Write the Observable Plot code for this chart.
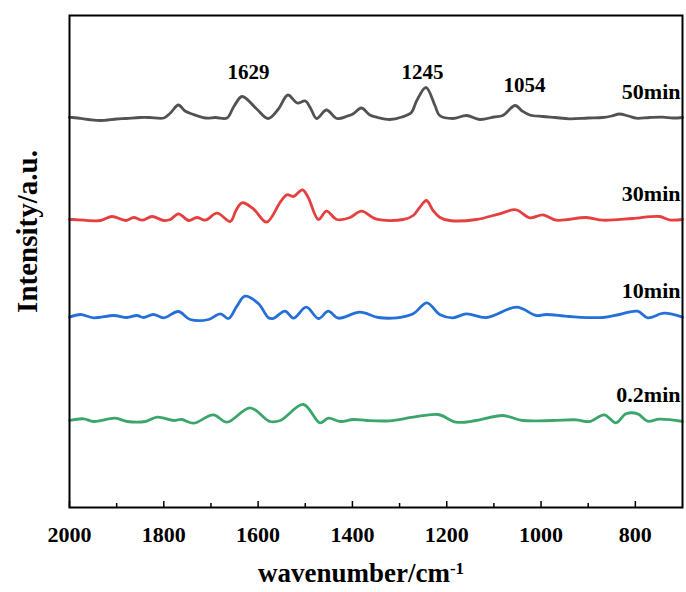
<!DOCTYPE html>
<html>
<head>
<meta charset="utf-8">
<script src="https://cdn.jsdelivr.net/npm/d3@7"></script>
<script src="https://cdn.jsdelivr.net/npm/@observablehq/plot@0.6"></script>
<style>
  html, body { margin: 0; padding: 0; background: #fff; }
</style>
</head>
<body>
<div id="chart"></div>
<script>
// ---- data ----
const seriesNames = ["50min", "30min", "10min", "0.2min"];
const seriesOffsets = [389.5, 288, 190.3, 87];
const seriesColors = ["#525252", "#e5403f", "#2470d8", "#3aa66b"];

const wn50 = [2000,1994,1960,1934,1900,1880,1850,1830,1800,1786,1769,1755,1740,1712,1690,1666,1652,1634,1603,1579,1557,1537,1517,1500,1488,1476,1455,1433,1410,1399,1381,1363,1346,1321,1295,1275,1264,1244,1225,1215,1187,1158,1130,1100,1081,1055,1040,1024,996,970,940,900,869,850,834,815,798,770,742,720,700];
const int50 = [0.5,0.5,-1.5,-2.5,-1,-0.5,0.5,0.5,0,5,13,7,4,0,0.5,0,11,21.5,9,-0.5,9,23,15,17,9,-0.5,8,-0.5,2,4,10,3,0.5,-1.5,1,5.5,17,30.5,12.5,2.5,-0.5,2.5,-1.5,1,2.5,12.5,7,3,1.5,0.5,-0.8,0,0.5,2,4,2,-0.2,0.5,0.8,0,0.5];

const wn30 = [2000,1994,1934,1910,1881,1864,1846,1825,1800,1786,1769,1747,1730,1712,1687,1659,1647,1634,1610,1582,1553,1539,1525,1506,1494,1472,1455,1433,1405,1381,1349,1292,1271,1257,1243,1229,1215,1194,1137,1088,1053,1024,996,968,904,869,806,749,728,700];
const int30 = [0,0,-1,3,-1,2,-0.7,3,-1,0,5.7,-1,2,-0.7,6.3,-2,9,16.7,10.7,-2.7,17.3,24.7,23,29.7,22.3,0,8.3,0,2,8.3,0.3,0,4,12.3,19,9,2.3,-1,0,5.7,9.7,1.7,4.7,-0.7,2,-0.7,1,3,-0.3,0];

const wn10 = [2000,1977,1949,1906,1878,1857,1843,1822,1800,1769,1744,1705,1680,1663,1645,1628,1599,1578,1568,1543,1525,1498,1472,1451,1430,1384,1345,1306,1271,1242,1215,1187,1158,1116,1052,1010,989,940,869,834,795,774,739,700];
const int10 = [0,2.7,-0.6,1.7,-0.3,1.7,-0.3,2.7,-0.6,5.7,-2.3,-2.3,3.4,-1.3,11,21,13.4,-0.6,-1.3,6,-1,10,-1.3,6,-1,5,-0.3,-0.6,3.4,14.4,2.7,-0.6,3.4,-0.3,10,1.7,2.7,0.7,-0.3,2.7,6,-0.6,4,0];

const wn02 = [2000,1970,1949,1903,1878,1839,1814,1779,1762,1737,1695,1666,1617,1575,1553,1504,1469,1451,1426,1398,1370,1321,1271,1218,1180,1137,1081,1039,975,926,897,866,841,820,795,774,749,700];
const int02 = [0,1.7,-1,2.3,-1,-1,3.3,0,1,-2.7,5.7,-1.7,12.7,-1,0,16,-2.3,2.3,-1,1,0,-0.3,3.3,6,-1.7,0,5,0,0,0.7,-1,5.7,-2.3,6.7,6.7,-0.7,1.3,-1];

const peakLabels = [1629, 1245, 1054];
const majorTicks = [2000, 1800, 1600, 1400, 1200, 1000, 800];
const minorTicks = [1900, 1700, 1500, 1300, 1100, 900];
const xLabel = "wavenumber/cm-1";
const yLabel = "Intensity/a.u.";

// ---- build table ----
const wnList = [wn50, wn30, wn10, wn02];
const intList = [int50, int30, int10, int02];
const rows = [];
seriesNames.forEach((name, i) => {
  wnList[i].forEach((w, j) => rows.push({series: name, wn: w, y: intList[i][j] + seriesOffsets[i]}));
});
const seriesLabelRows = seriesNames.map((name, i) => ({series: name, y: seriesOffsets[i]}));
const peakY = [435, 435, 422];
const peakDx = [4, -3, 9];

const FONT = "'Liberation Serif', 'Times New Roman', serif";

const chart = Plot.plot({
  width: 686,
  height: 592,
  marginLeft: 69,
  marginRight: 4,
  marginTop: 15,
  marginBottom: 85,
  style: {fontFamily: FONT, fontWeight: "bold", background: "#fff", overflow: "visible"},
  x: {domain: [2000, 700], axis: null},
  y: {domain: [0, 492], axis: null},
  color: {domain: seriesNames, range: seriesColors},
  marks: [
    Plot.line(rows, {x: "wn", y: "y", z: "series", stroke: "series", strokeWidth: 2.8, curve: "catmull-rom", strokeLinejoin: "round"}),
    Plot.frame({stroke: "black", strokeWidth: 2}),
    Plot.axisX({ticks: majorTicks, tickSize: -6, strokeWidth: 1.5, text: null, label: null}),
    Plot.axisX({ticks: minorTicks, tickSize: -4, strokeWidth: 1.5, text: null, label: null}),
    Plot.axisX({ticks: majorTicks, tickSize: 0, tickPadding: 19, tickFormat: d => String(d), fontSize: 22, fontWeight: "bold", label: null}),
    Plot.text([xLabel], {frameAnchor: "bottom", dx: -15, dy: 74, fontSize: 27, fontWeight: "bold"}),
    Plot.text([yLabel], {frameAnchor: "left", textAnchor: "middle", rotate: -90, dx: -42, dy: -30, fontSize: 29, fontWeight: "bold"}),
    ...peakLabels.map((p, i) =>
      Plot.text([p], {x: d => d, y: () => peakY[i], text: d => String(d), dx: peakDx[i], fontSize: 21, fontWeight: "bold"})),
    Plot.text(seriesLabelRows, {x: 700, y: "y", text: "series", textAnchor: "end", dx: -2, dy: -26, fontSize: 22, fontWeight: "bold"})
  ]
});

// superscript for cm-1
chart.querySelectorAll("text").forEach(t => {
  if (t.textContent === xLabel) {
    t.textContent = "wavenumber/cm";
    const sup = document.createElementNS("http://www.w3.org/2000/svg", "tspan");
    sup.setAttribute("dy", "-0.45em");
    sup.setAttribute("font-size", "17");
    sup.textContent = "-1";
    t.appendChild(sup);
  }
});

document.getElementById("chart").appendChild(chart);
</script>
</body>
</html>
